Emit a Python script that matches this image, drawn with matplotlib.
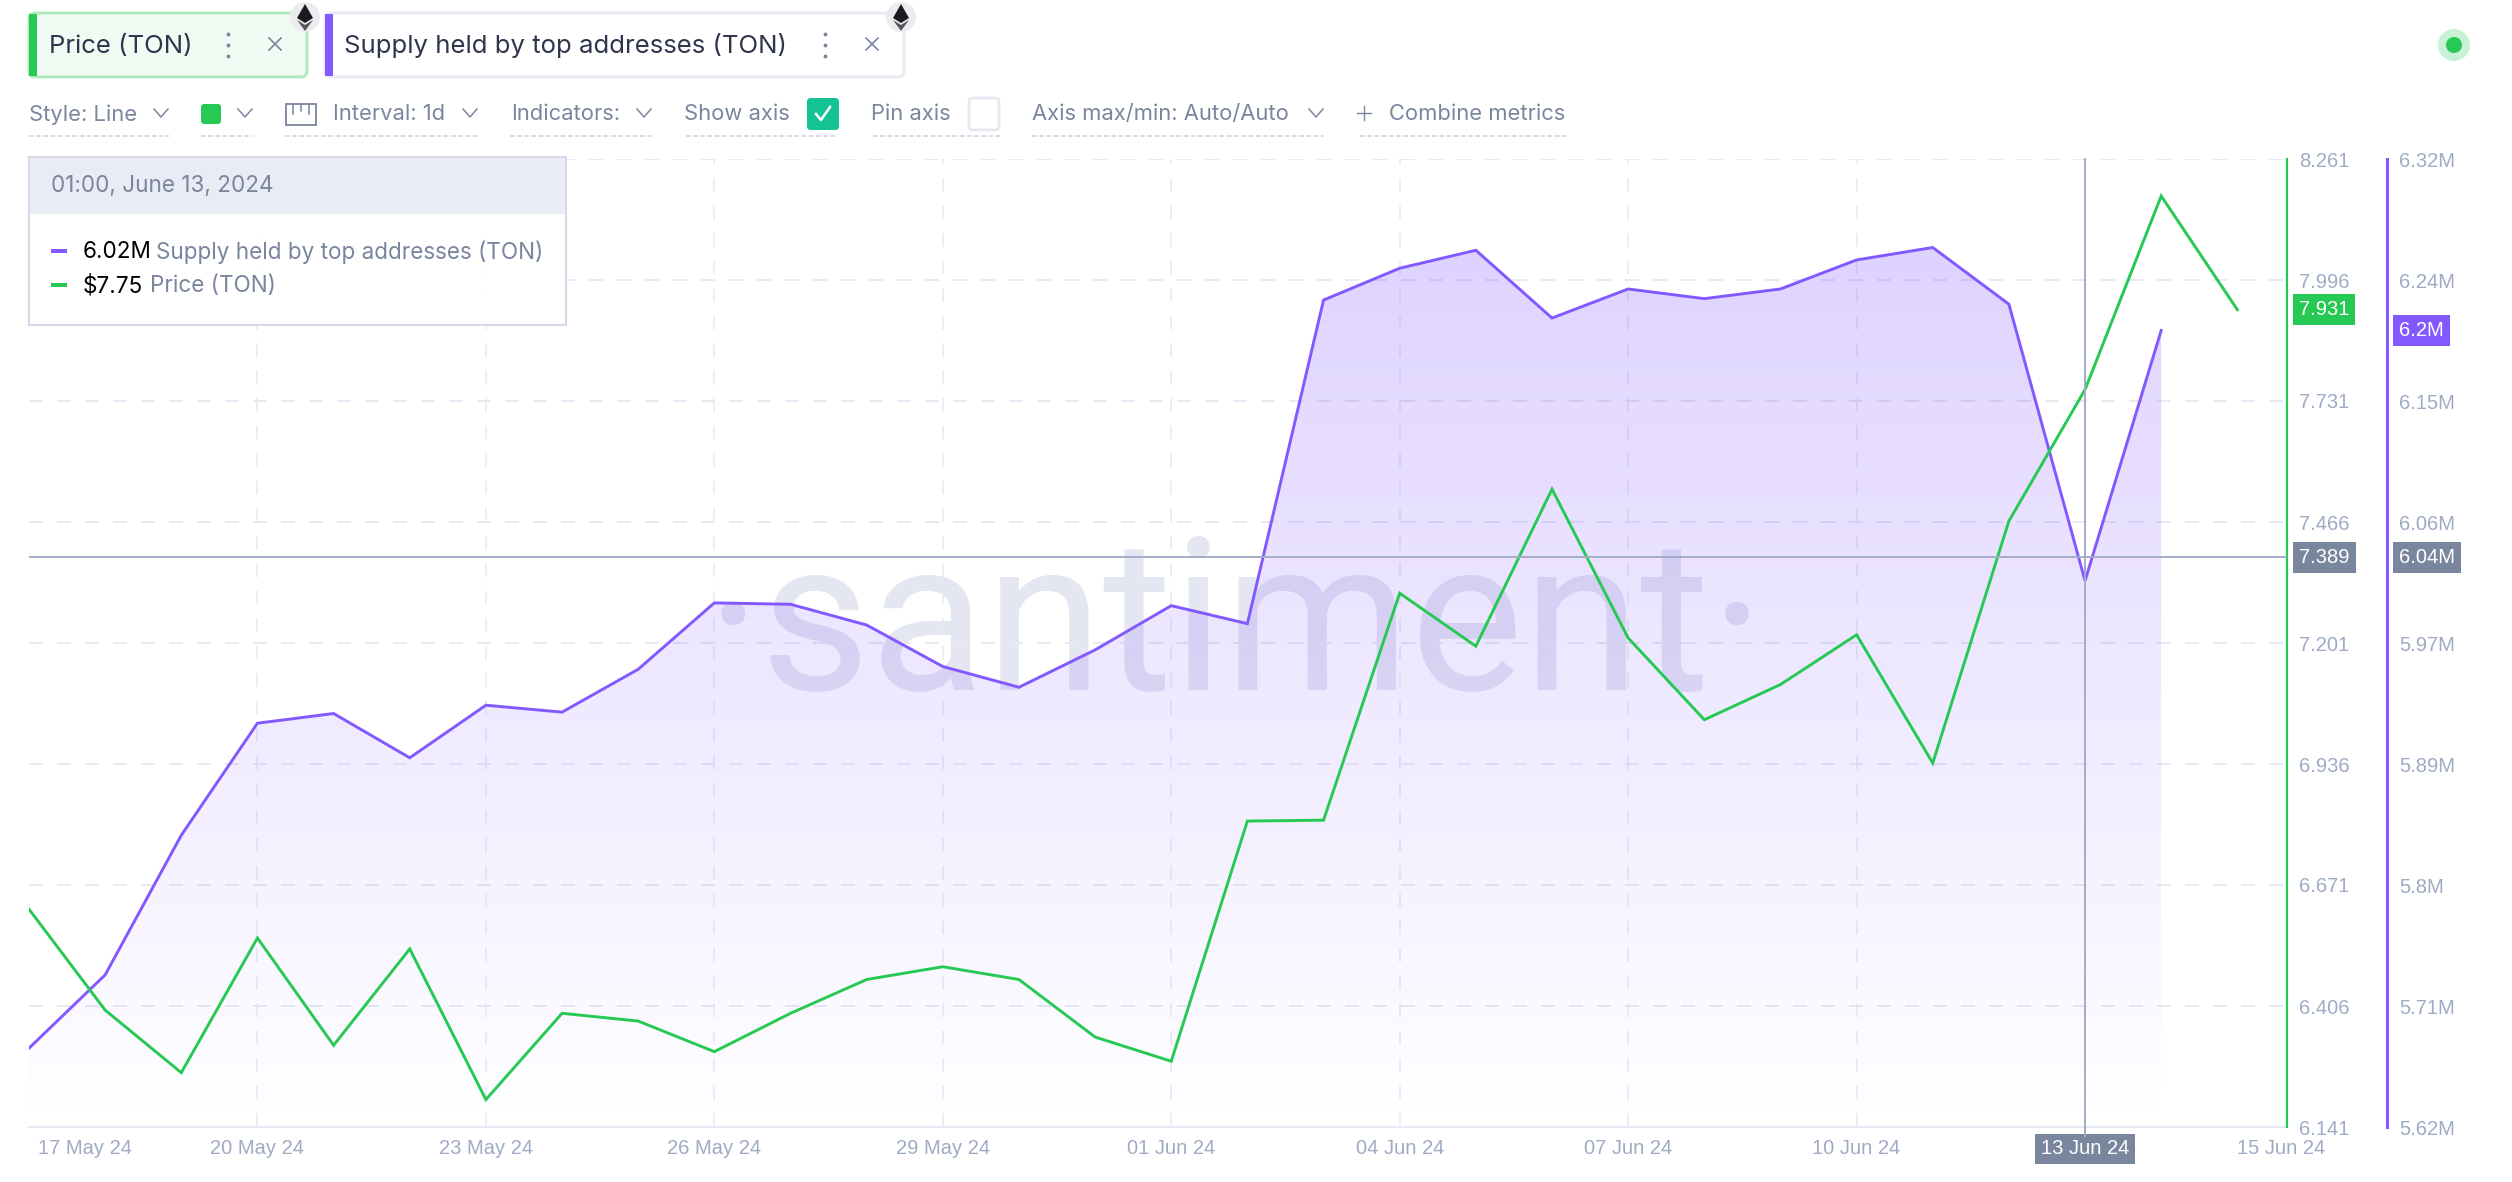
import numpy as np
import pandas as pd
import matplotlib
matplotlib.use('Agg')
import matplotlib.pyplot as plt
import matplotlib.dates as mdates
from matplotlib.patches import FancyBboxPatch, Rectangle, Circle, Polygon
from matplotlib.transforms import ScaledTranslation

# price and supply per day
days = pd.date_range('2024-05-17', '2024-06-15', freq='D')
price = [6.618, 6.397, 6.260, 6.555, 6.320, 6.531, 6.201, 6.390, 6.373, 6.306,
         6.390, 6.464, 6.492, 6.464, 6.338, 6.285, 6.811, 6.813, 7.310, 7.194,
         7.538, 7.212, 7.033, 7.110, 7.219, 6.938, 7.468, 7.756, 8.180, 7.931]
supply = [5.677, 5.730, 5.831, 5.912, 5.919, 5.887, 5.925, 5.920, 5.951, 5.999,
          5.998, 5.983, 5.953, 5.938, 5.965, 5.997, 5.984, 6.218, 6.241, 6.254,
          6.205, 6.226, 6.219, 6.226, 6.247, 6.256, 6.215, 6.015, 6.196]

price_ticks = [6.141, 6.406, 6.671, 6.936, 7.201, 7.466, 7.731, 7.996, 8.261]
supply_ticks = [5.62, 5.7075, 5.795, 5.8825, 5.97, 6.0575, 6.145, 6.2325, 6.32]
supply_labels = ['5.62M', '5.71M', '5.8M', '5.89M', '5.97M', '6.06M', '6.15M', '6.24M', '6.32M']
date_ticks = ['2024-05-17', '2024-05-20', '2024-05-23', '2024-05-26', '2024-05-29', '2024-06-01',
              '2024-06-04', '2024-06-07', '2024-06-10', '2024-06-13', '2024-06-15']
date_labels = ['17 May 24', '20 May 24', '23 May 24', '26 May 24', '29 May 24', '01 Jun 24',
               '04 Jun 24', '07 Jun 24', '10 Jun 24', '13 Jun 24', '15 Jun 24']
cross_date = '2024-06-13'
cross_price = 7.389
cross_supply = 6.032

GREEN = '#26c953'
PURPLE = '#8358ff'
AXIS_TXT = '#9faac4'
UI_TXT = '#7a859e'
DARK_TXT = '#2f354d'
LIGHT = '#e7eaf3'
UI_FONT = 'Inter'

W, H = 2512, 1182
fig = plt.figure(figsize=(W / 100, H / 100), dpi=100, facecolor='white')
left, right, top, bottom = 29, 2287, 159, 1127
ax = fig.add_axes([left / W, 1 - bottom / H, (right - left) / W, (bottom - top) / H])
ax2 = ax.twinx()
ax.set_zorder(1)
ax2.set_zorder(2)
ax2.patch.set_visible(False)

# x scale: 76.15 px per day
x0 = mdates.date2num(days[0])
ax.set_xlim(x0, x0 + (right - left) / 76.15)
ax2.set_xlim(ax.get_xlim())
ax.set_ylim(supply_ticks[0], supply_ticks[-1])
ax2.set_ylim(price_ticks[0], price_ticks[-1])

# watermark under everything
ax.text(0.5345, 0.4514, '·santiment·', transform=ax.transAxes, ha='center', va='baseline',
        fontsize=153, color='#e4e6f1', family='Roboto', zorder=0.5)

# grid
tick_pos = mdates.date2num(pd.to_datetime(date_ticks))
ax.set_xticks(tick_pos, date_labels)
ax.yaxis.tick_right()
ax.set_yticks(supply_ticks, supply_labels)
ax2.set_yticks(price_ticks, [f'{v:.3f}' for v in price_ticks])
for t in supply_ticks:
    ax.axhline(t, color=LIGHT, lw=1.44, ls=(0, (7, 7)), zorder=0.6)
for t in tick_pos[1:-1]:
    ax.axvline(t, color=LIGHT, lw=1.1, ls=(0, (9, 9)), zorder=0.6)

# gradient area under the supply line
xs = mdates.date2num(days[:len(supply)])
shape = ax.fill_between(xs, supply, supply_ticks[0], facecolor='none', edgecolor='none')
rgba = np.zeros((256, 1, 4))
rgba[..., :3] = matplotlib.colors.to_rgb(PURPLE)
rgba[..., 3] = np.linspace(0.27, 0, 256).reshape(-1, 1)
im = ax.imshow(rgba, extent=(xs[0], xs[-1], supply_ticks[0], max(supply) + 0.01), aspect='auto', zorder=1, origin='upper')
im.set_clip_path(shape.get_paths()[0], transform=ax.transData)
ax.set_xlim(x0, x0 + (right - left) / 76.15)
ax.set_ylim(supply_ticks[0], supply_ticks[-1])

ax.plot(xs, supply, color=PURPLE, lw=2.1, zorder=3, solid_joinstyle='miter')
ax2.plot(mdates.date2num(days), price, color=GREEN, lw=2.1, zorder=3, solid_joinstyle='miter')

# crosshair
cx = mdates.date2num(pd.Timestamp(cross_date))
ax2.axvline(cx, ymin=-0.009, color='#a3adc6', lw=1.4, clip_on=False, zorder=4)
ax2.axhline(cross_price, color='#a3adc6', lw=1.4, zorder=4)

# spines and ticks
for a in (ax, ax2):
    for s in ('top', 'left', 'bottom', 'right'):
        a.spines[s].set_visible(False)
ax.spines['bottom'].set_visible(True)
ax.spines['bottom'].set_color(LIGHT)
ax.spines['bottom'].set_linewidth(1.4)
ax2.spines['right'].set_visible(True)
ax2.spines['right'].set_color(GREEN)
ax2.spines['right'].set_linewidth(1.6)
ax.spines['right'].set_visible(True)
ax.spines['right'].set_position(('outward', 72))
ax.spines['right'].set_color(PURPLE)
ax.spines['right'].set_linewidth(2.2)

ax.tick_params(axis='y', length=0, pad=9, labelsize=14.5, labelcolor=AXIS_TXT, labelfontfamily='Liberation Sans')
ax2.tick_params(axis='y', length=0, pad=9, labelsize=14.5, labelcolor=AXIS_TXT, labelfontfamily='Liberation Sans')
ax.tick_params(axis='x', length=0, pad=9, labelsize=14.5, labelcolor=AXIS_TXT, labelfontfamily='Liberation Sans')
labs = ax.get_xticklabels()
labs[0].set_ha('left')
labs[0].set_transform(labs[0].get_transform() + ScaledTranslation(0.09, 0, fig.dpi_scale_trans))
labs[-1].set_ha('left')
labs[9].set_color('white')
labs[9].set_bbox(dict(facecolor=UI_TXT, edgecolor='none', boxstyle='square,pad=0.28'))

# value flags next to the axes
def flag(axis, value, txt, col, dx):
    axis.annotate(txt, xy=(1, value), xycoords=axis.get_yaxis_transform(), xytext=(dx, 0),
                  textcoords='offset pixels', ha='left', va='center', color='white', fontsize=14.5,
                  family='Liberation Sans', annotation_clip=False, zorder=6,
                  bbox=dict(facecolor=col, edgecolor='none', boxstyle='square,pad=0.3'))

flag(ax2, price[-1], f'{price[-1]:.3f}', GREEN, 12)
flag(ax2, cross_price, f'{cross_price:.3f}', UI_TXT, 12)
flag(ax, supply[-1], '6.2M', PURPLE, 112)
flag(ax, cross_supply, '6.04M', UI_TXT, 112)

# --- interface chrome, drawn in pixels on a full figure layer
ui = fig.add_axes([0, 0, 1, 1], zorder=10)
ui.set_xlim(0, W)
ui.set_ylim(H, 0)
ui.axis('off')
ui.patch.set_visible(False)

def rrect(x1, y1, x2, y2, fc, ec='none', lw=2, r=6, alpha=None):
    p = FancyBboxPatch((x1 + r, y1 + r), x2 - x1 - 2 * r, y2 - y1 - 2 * r, boxstyle=f'round,pad={r},rounding_size={r}',
                       fc=fc, ec=ec, lw=lw, alpha=alpha)
    ui.add_patch(p)

def label(x, y, txt, col=UI_TXT, size=15.8, **kw):
    ui.text(x, y, txt, color=col, fontsize=size, family=UI_FONT, va='center', ha=kw.pop('ha', 'left'), **kw)

def chevron(x, y):
    ui.plot([x - 7, x, x + 7], [y - 4, y + 4, y - 4], color=UI_TXT, lw=1.1)

def dashes(x1, x2, y=136):
    ui.plot([x1, x2], [y, y], color='#d5d8ea', lw=1.3, ls=(0, (2.5, 1.5)))

def dots(x, y):
    ui.plot([x, x, x], [y - 11, y, y + 11], ls='none', marker='o', ms=2.8, color=UI_TXT, mew=0)

def cross(x, y):
    ui.plot([x - 6, x + 6], [y - 6, y + 6], color=UI_TXT, lw=1.2)
    ui.plot([x - 6, x + 6], [y + 6, y - 6], color=UI_TXT, lw=1.2)

def eth(x, y):
    ui.add_patch(Circle((x, y), 15, fc='#ececef', ec='none'))
    ui.add_patch(Polygon([(x, y - 13), (x + 8, y + 1), (x, y + 6), (x - 8, y + 1)], fc='#1b1b1f', ec='none'))
    ui.add_patch(Polygon([(x, y + 8), (x + 8, y + 3), (x, y + 14), (x - 8, y + 3)], fc='#55555c', ec='none'))

# metric chips
rrect(29, 13, 307, 77, '#f1faf3', '#aee8bd')
ui.add_patch(Rectangle((29, 14), 8, 62, fc=GREEN, ec='none'))
label(49, 46, 'Price (TON)', DARK_TXT, 18.5)
dots(228, 45)
cross(275, 44)
eth(305, 17)
rrect(325, 13, 904, 77, 'white', LIGHT)
ui.add_patch(Rectangle((325, 14), 8, 62, fc=PURPLE, ec='none'))
label(344, 46, 'Supply held by top addresses (TON)', DARK_TXT, 18.5)
dots(825, 45)
cross(872, 44)
eth(901, 17)

# settings row
ty = 114.5
label(29, ty, 'Style: Line')
chevron(161, 113)
dashes(29, 169)
rrect(201, 104, 221, 124, GREEN, r=3)
chevron(245, 113)
dashes(201, 253)
ui.add_patch(Rectangle((286, 104), 30, 21, fc='none', ec=UI_TXT, lw=1.3))
ui.plot([293, 293], [104, 114], color=UI_TXT, lw=1.1)
ui.plot([301, 301], [104, 111], color=UI_TXT, lw=1.1)
ui.plot([309, 309], [104, 114], color=UI_TXT, lw=1.1)
label(333, ty, 'Interval: 1d')
chevron(470, 113)
dashes(285, 478)
label(511, ty, 'Indicators:')
chevron(644, 113)
dashes(510, 652)
label(684, ty, 'Show axis')
rrect(807, 98, 839, 130, '#14c393', r=4)
ui.plot([816, 821, 830], [114, 120, 107], color='white', lw=1.8)
dashes(686, 836)
label(871, ty, 'Pin axis')
rrect(969, 98, 999, 130, 'white', LIGHT, r=4)
dashes(873, 1000)
label(1032, ty, 'Axis max/min: Auto/Auto')
chevron(1316, 113)
dashes(1032, 1324)
ui.plot([1357, 1371], [113, 113], color=UI_TXT, lw=1)
ui.plot([1364, 1364], [106, 120], color=UI_TXT, lw=1)
label(1389, ty, 'Combine metrics')
dashes(1360, 1567)

# status dot
ui.add_patch(Circle((2454, 45), 16, fc='#c9f1d5', ec='none'))
ui.add_patch(Circle((2454, 45), 8, fc=GREEN, ec='none'))

# tooltip
ui.add_patch(Rectangle((29, 157), 537, 168, fc='white', ec='#d5d8ea', lw=1.5, alpha=0.97))
ui.add_patch(Rectangle((30, 158), 535, 56, fc='#e9ebf5', ec='none'))
label(51, 186, '01:00, June 13, 2024', UI_TXT, 16.2)
ui.add_patch(Rectangle((51, 249), 16, 4, fc=PURPLE, ec='none'))
label(83, 252, '6.02M', 'black', 16.2)
label(156, 252, 'Supply held by top addresses (TON)', UI_TXT, 16.2)
ui.add_patch(Rectangle((51, 283), 16, 4, fc=GREEN, ec='none'))
label(83, 286, '$7.75', 'black', 16.2)
label(150, 286, 'Price (TON)', UI_TXT, 16.2)

fig.savefig('out.png', dpi=100, facecolor='white')
